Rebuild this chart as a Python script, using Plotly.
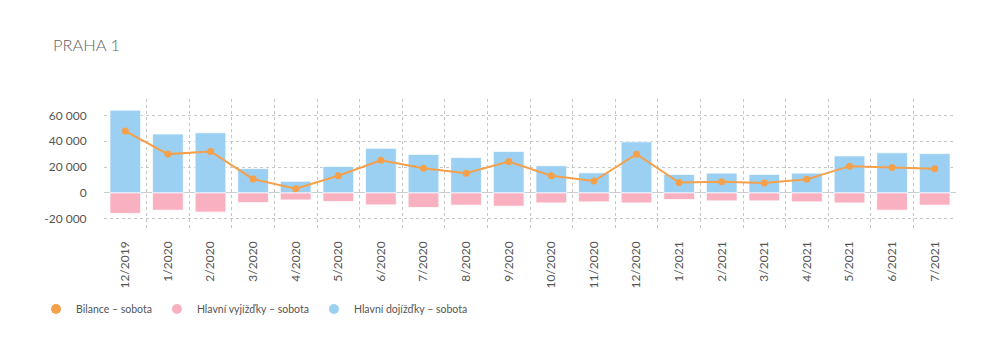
import plotly.graph_objects as go

months = ["12/2019", "1/2020", "2/2020", "3/2020", "4/2020", "5/2020", "6/2020",
          "7/2020", "8/2020", "9/2020", "10/2020", "11/2020", "12/2020", "1/2021",
          "2/2021", "3/2021", "4/2021", "5/2021", "6/2021", "7/2021"]

dojizdky = [64000, 45500, 46500, 18800, 9000, 20500, 34500, 29800, 27300, 32000,
            21000, 15500, 39500, 14300, 15300, 14300, 15300, 28600, 31000, 30400]

vyjizdky = [-15800, -13300, -14800, -7400, -5400, -6600, -9200, -11200, -9400, -10200,
            -7700, -6900, -7700, -5100, -6100, -6100, -6900, -7700, -13300, -9400]

bilance = [47800, 30000, 32000, 10800, 3300, 13300, 25300, 19100, 15300, 24300,
           13300, 9200, 29900, 8000, 8700, 7700, 10500, 20700, 19700, 18700]

ytick_vals = [-20000, 0, 20000, 40000, 60000]
ytick_text = ["-20 000", "0", "20 000", "40 000", "60 000"]

BLUE = "#9bd0f3"
PINK = "#f9b1c1"
ORANGE = "#f5a04b"
TEXT = "#555555"
FONT = "Lato"

fig = go.Figure()

fig.add_trace(go.Bar(x=months, y=dojizdky, name="Hlavní dojížďky – sobota",
                     marker=dict(color=BLUE, line=dict(color="rgba(255,255,255,0.7)", width=1)),
                     width=0.72, showlegend=False))
fig.add_trace(go.Bar(x=months, y=vyjizdky, name="Hlavní vyjížďky – sobota",
                     marker=dict(color=PINK, line=dict(color="rgba(255,255,255,0.7)", width=1)),
                     width=0.72, showlegend=False))
fig.add_trace(go.Scatter(x=months, y=bilance, name="Bilance – sobota", mode="lines+markers",
                         line=dict(color=ORANGE, width=2),
                         marker=dict(color=ORANGE, size=7), showlegend=False))

# legend-only entries (circle symbols)
for name, col in [("Bilance – sobota", ORANGE),
                  ("Hlavní vyjížďky – sobota", PINK),
                  ("Hlavní dojížďky – sobota", BLUE)]:
    fig.add_trace(go.Scatter(x=[None], y=[None], mode="markers", name=name,
                             marker=dict(color=col, size=10, symbol="circle")))

fig.update_layout(
    width=1000, height=354,
    margin=dict(l=104, r=44, t=99, b=126, autoexpand=False),
    barmode="relative",
    plot_bgcolor="white", paper_bgcolor="white",
    font=dict(family=FONT, color=TEXT, size=11),
    title=dict(text="PRAHA 1", x=0.053, xref="container", xanchor="left",
               y=1 - 45 / 354, yref="container", yanchor="middle",
               font=dict(family=FONT, size=16.5, color="#666666", weight=300)),
    legend=dict(orientation="h", x=0.036, xref="container", xanchor="left",
                y=1 - 309 / 354, yref="container", yanchor="middle",
                font=dict(size=10.5, color=TEXT), traceorder="normal"),
    showlegend=True,
)

fig.update_xaxes(type="category", tickson="boundaries", showgrid=True, automargin=False,
                 range=[-0.5, len(months) - 0.5], autorange=False,
                 gridcolor="#c4c4c4", griddash="dot", gridwidth=1,
                 tickangle=-90, ticks="", ticklabelstandoff=10,
                 tickfont=dict(size=12, color=TEXT), showline=False, zeroline=False)
fig.update_yaxes(range=[-27100, 72600], tickvals=ytick_vals, ticktext=ytick_text,
                 automargin=False,
                 showgrid=True, gridcolor="#c8c8c8", griddash="dot", gridwidth=1,
                 zeroline=True, zerolinecolor="#cccccc", zerolinewidth=1,
                 tickfont=dict(size=12, color=TEXT), ticks="outside", ticklen=14,
                 tickcolor="rgba(0,0,0,0)", showline=False)

fig.write_html("out.html")
